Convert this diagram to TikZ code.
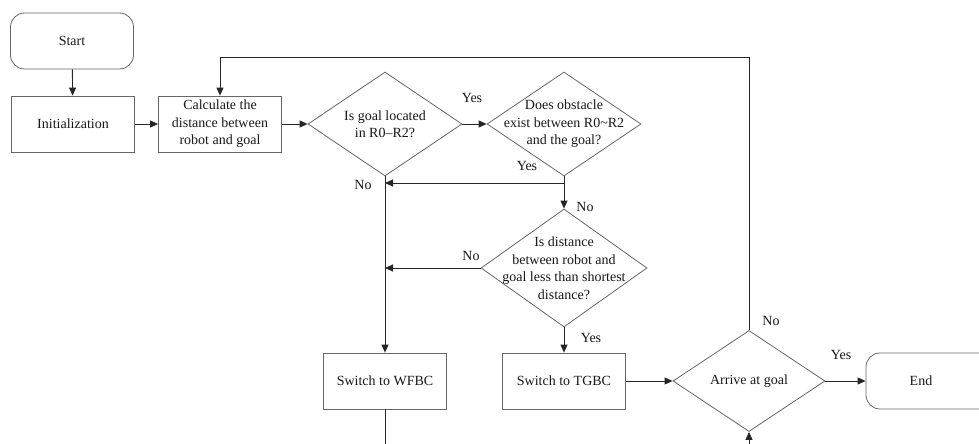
\documentclass[tikz,border=0pt]{standalone}
\usepackage{fontspec}
\setmainfont{Liberation Serif}
\usetikzlibrary{shapes.geometric,arrows.meta}
\begin{document}
\begin{tikzpicture}[x=1pt,y=-1pt,
  every node/.style={font=\fontsize{14}{17.5}\selectfont, text=black!90},
  box/.style={draw=black!60, line width=0.8pt, minimum width=123pt, minimum height=56pt, inner sep=0pt, align=center},
  term/.style={box, rounded corners=14pt},
  dia/.style={draw=black!60, line width=0.8pt, diamond, inner sep=0pt},
  txt/.style={align=center, inner sep=0pt},
  lab/.style={inner sep=0pt},
  conn/.style={draw=black!85, line width=0.9pt},
  arr/.style={conn, -{Triangle[length=8pt,width=7pt]}}
]
\clip (0,0) rectangle (979,444);
\fill[white] (0,0) rectangle (979,444);

\node[term] (start) at (72,41) {Start};
\node[box] (init) at (73,124) {Initialization};
\node[box] (calc) at (220,124) {Calculate the\\distance between\\robot and goal};

\node[dia, minimum width=154pt, minimum height=104pt] (d1) at (385,124) {};
\node[txt] at (d1) {Is goal located\\in R0--R2?};

\node[dia, minimum width=154pt, minimum height=104pt] (d2) at (564,124) {};
\node[txt] at (d2) {Does obstacle\\exist between R0\textasciitilde R2\\and the goal?};

\node[dia, minimum width=166pt, minimum height=118pt] (d3) at (564,268) {};
\node[txt] at (d3) {Is distance\\between robot and\\goal less than shortest\\distance?};

\node[box] (wfbc) at (385,381) {Switch to WFBC};
\node[box] (tgbc) at (564,381) {Switch to TGBC};

\node[dia, minimum width=152pt, minimum height=101pt] (d4) at (749,381) {};
\node[txt] at (d4) {Arrive at goal};

\node[term, minimum width=150pt] (end) at (941,381) {};
\node[txt] at (921,381) {End};

\coordinate (j1) at (564,183);
\coordinate (wb) at (385,444);
\coordinate (d4in) at (749,444);
\coordinate (top1) at (749,57);
\coordinate (top2) at (220,57);

\draw[arr] (start) -- (init);
\draw[arr] (init) -- (calc);
\draw[arr] (calc) -- (d1);
\draw[arr] (d1) -- (d2);
\draw[arr] (d1.south) -- (wfbc.north);
\draw[conn] (d2.south) -- (j1);
\draw[arr] (j1) -- (d1.south |- j1);
\draw[arr] (j1) -- (d3.north);
\draw[arr] (d3.west) -- (d1.south |- d3.west);
\draw[arr] (d3.south) -- (tgbc.north);
\draw[arr] (tgbc) -- (d4);
\draw[arr] (d4) -- (end.west);
\draw[conn] (wfbc.south) -- (wb);
\draw[arr] (d4in) -- (d4.south);
\draw[arr] (d4.north) -- (top1) -- (top2) -- (calc.north);

\node[lab] at (472,98) {Yes};
\node[lab] at (527,166) {Yes};
\node[lab] at (363,185) {No};
\node[lab] at (585,207) {No};
\node[lab] at (471,256) {No};
\node[lab] at (591,338) {Yes};
\node[lab] at (771,321) {No};
\node[lab] at (841,355) {Yes};
\end{tikzpicture}
\end{document}
